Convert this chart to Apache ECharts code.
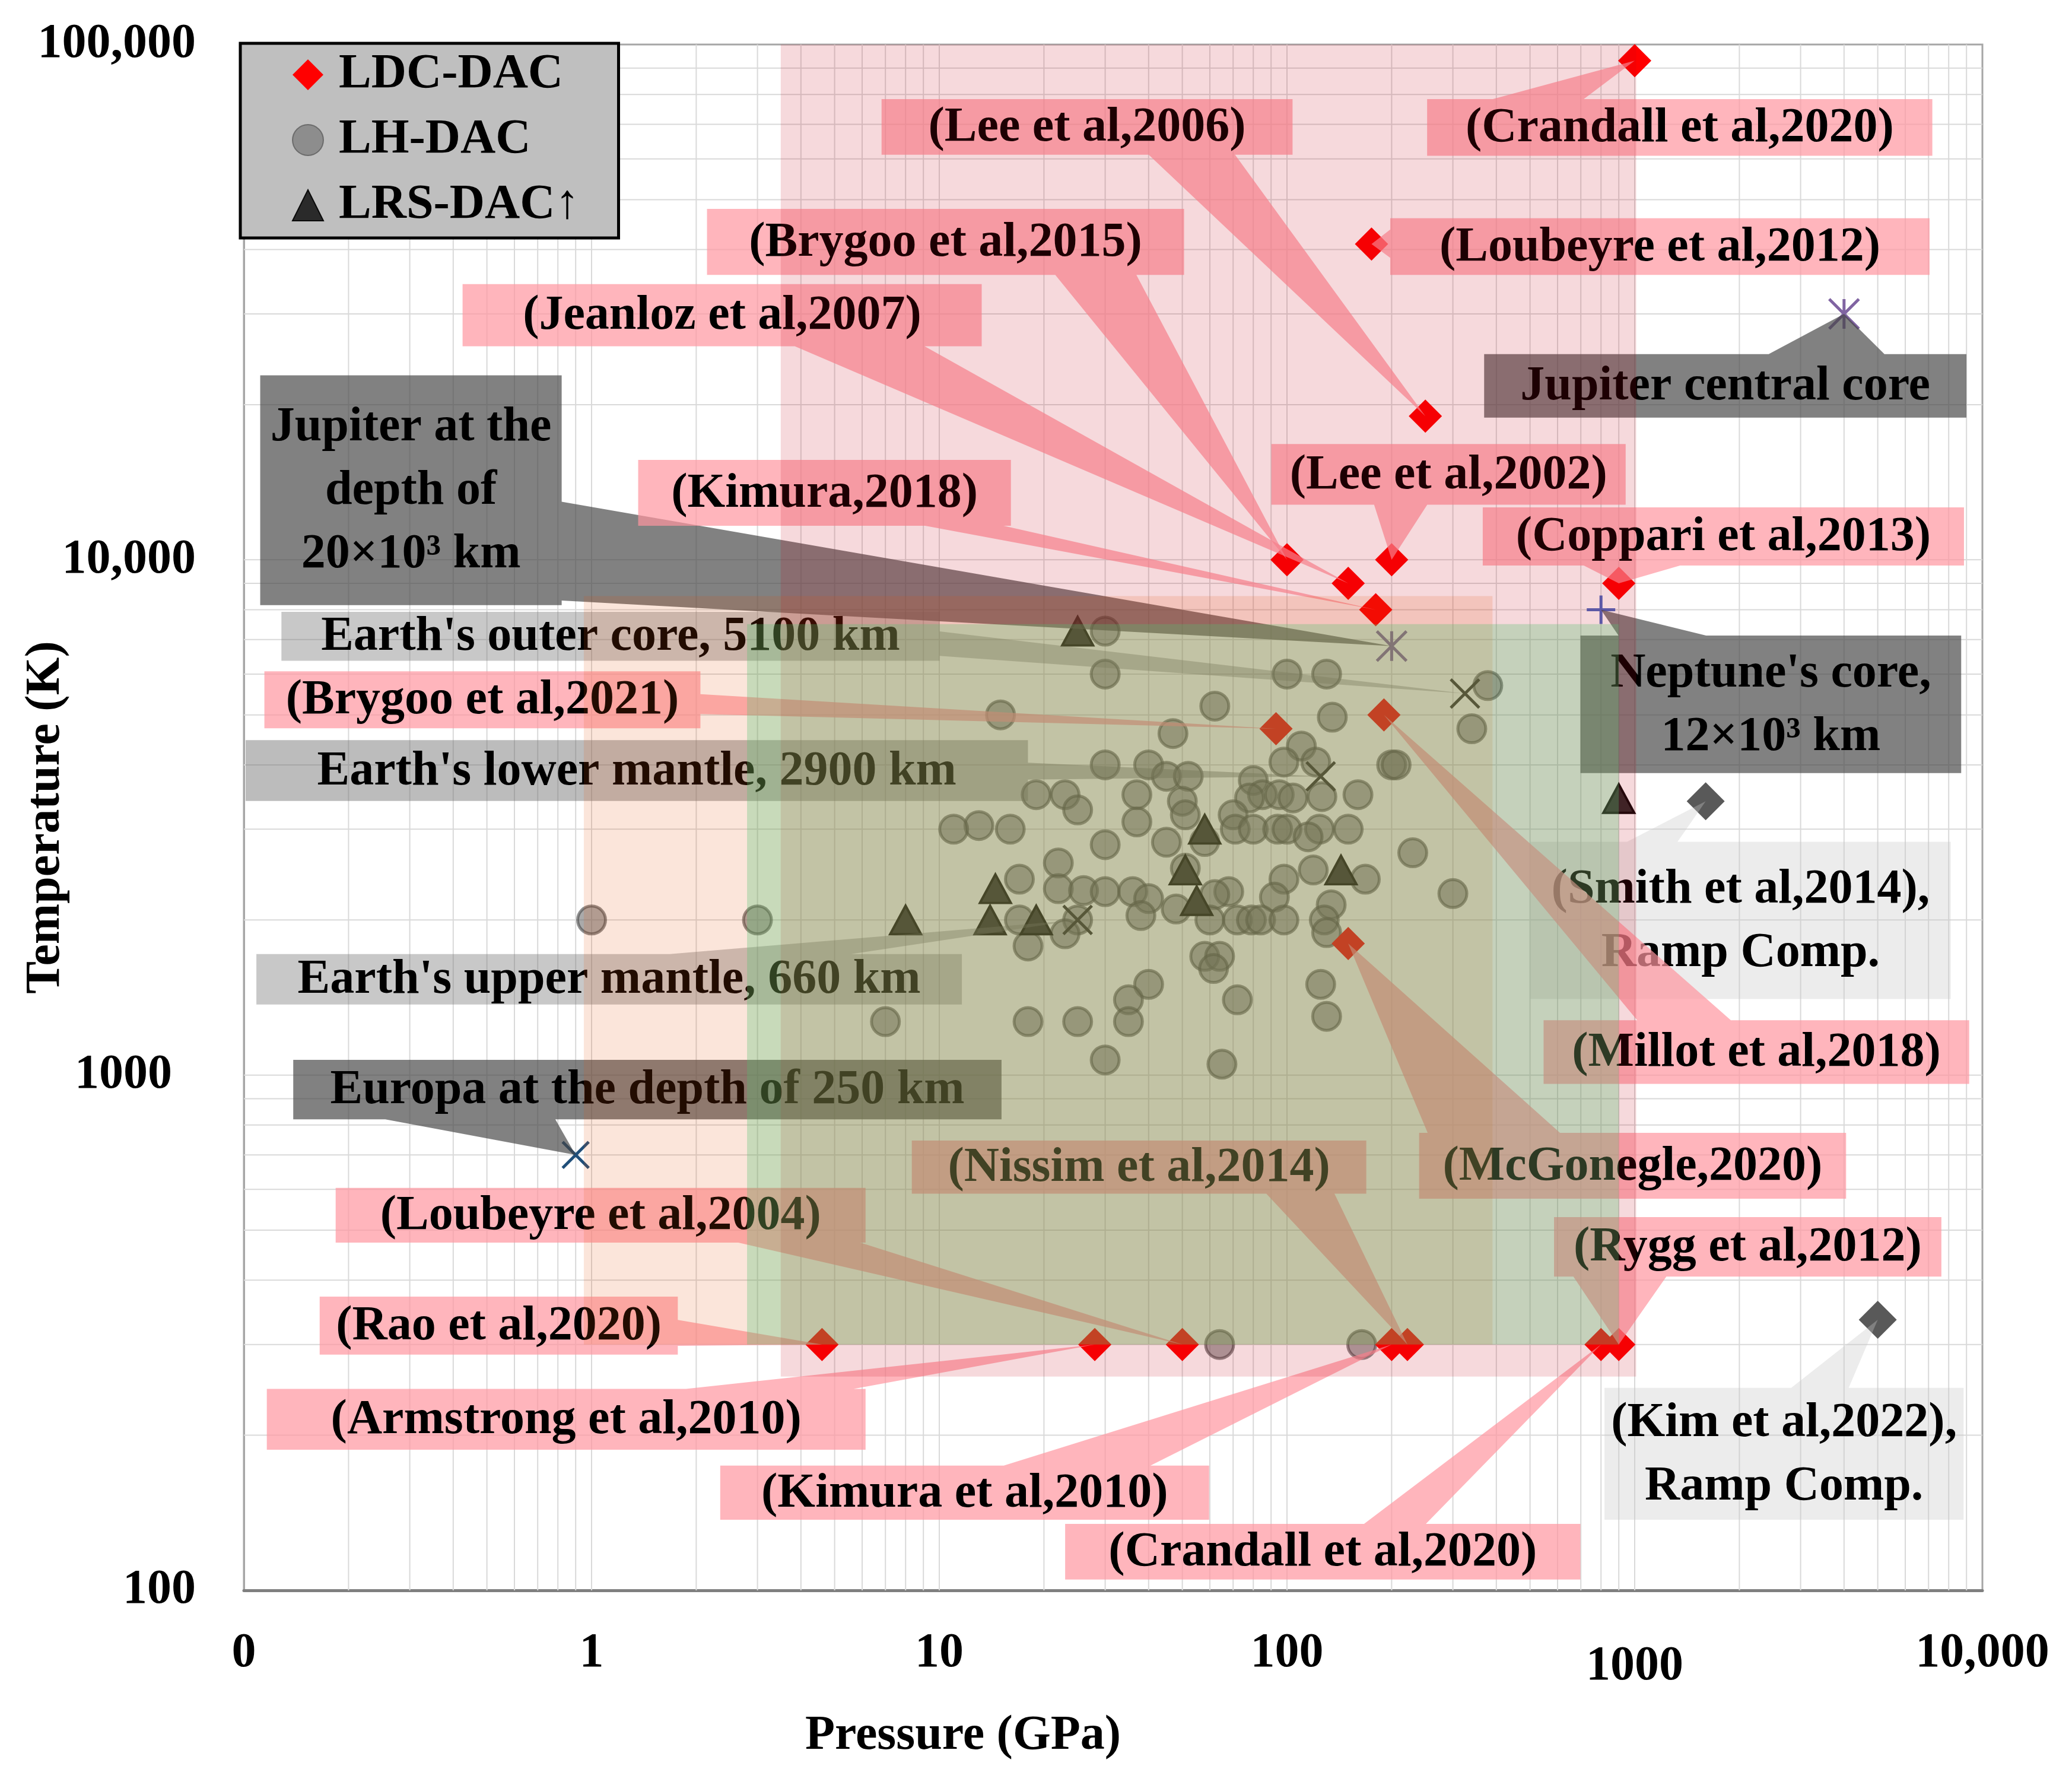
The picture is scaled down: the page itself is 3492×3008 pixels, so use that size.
<!DOCTYPE html>
<html>
<head>
<meta charset="utf-8">
<script src="https://cdn.jsdelivr.net/npm/echarts@6/dist/echarts.min.js"></script>
<style>html,body{margin:0;padding:0;background:#fff}#c{width:3492px;height:3008px}</style>
</head>
<body>
<div id="c"></div>
<script>
// ---------------- DATA (Pressure GPa, Temperature K) ----------------
const xTickValues = [0.1, 1, 10, 100, 1000, 10000];
const xTickLabels = ['0', '1', '10', '100', '1000', '10,000'];
const yTickValues = [100, 1000, 10000, 100000];
const yTickLabels = ['100', '1000', '10,000', '100,000'];

const ldcDac = [
  [1000, 93000], [175, 41000], [250, 19000], [100, 10000], [200, 10000], [150, 9000],
  [180, 8000], [900, 9000], [93, 4700], [190, 5000], [150, 1800], [4.6, 300],
  [28, 300], [50, 300], [200, 300], [222, 300], [800, 300], [900, 300]
];
const lhDac = [
  [1, 2000], [3, 2000], [30, 7270], [30, 6000], [100, 6000], [130, 6000], [378, 5700], [62, 5200],
  [15, 5000], [135, 4950], [340, 4700], [47, 4600], [110, 4350], [30, 4000], [40, 4000], [200, 4000],
  [206, 4000], [98, 4050], [121, 4050], [45, 3800], [52, 3800], [80, 3730], [19, 3500], [23, 3500],
  [37, 3500], [85, 3500], [95, 3500], [160, 3500], [126, 3470], [78, 3450], [104, 3450], [50, 3400],
  [25, 3270], [51, 3200], [70, 3200], [37, 3100], [13, 3050], [11, 3000], [16, 3000], [71, 3000],
  [80, 3000], [94, 3000], [100, 3000], [124, 3000], [150, 3000], [115, 2900], [58, 2840], [45, 2830],
  [30, 2800], [230, 2700], [22, 2580], [51, 2520], [119, 2500], [17, 2400], [98, 2400], [168, 2400],
  [22, 2300], [26, 2280], [30, 2270], [36, 2270], [68, 2270], [300, 2250], [62, 2240], [92, 2215],
  [40, 2200], [134, 2140], [48, 2100], [38, 2040], [17, 2000], [25, 2000], [60, 2000], [72, 2000],
  [79, 2000], [84, 2000], [98, 2000], [128, 2000], [130, 1890], [23, 1880], [18, 1780], [58, 1700],
  [64, 1700], [61.5, 1610], [40, 1500], [125, 1500], [35, 1400], [72, 1400], [130, 1300], [7, 1270],
  [18, 1270], [25, 1270], [35, 1270], [30, 1070], [65, 1050], [64, 300], [164, 300]
];
const lrsDac = [
  [25, 7270], [8, 2000], [14.5, 2300], [14, 2000], [19, 2000], [51, 2500], [55, 2180],
  [58, 3000], [143, 2500], [900, 3440]
];
const rampComp = [[1600, 3400], [5000, 335]];
const jupiter = [[4000, 30000], [200, 6800]];
const neptune = [[800, 8000]];
const earth = [[325, 5500], [125, 3800], [25, 2000]];
const europa = [[0.9, 700]];

// shaded regions: [pMin, pMax, tMin, tMax]
const shadedRegions = [
  [3.5, 1010, 260, 100000],
  [0.95, 390, 300, 8500],
  [2.8, 900, 300, 7500]
];

const pointSets = { ldc: ldcDac, ramp: rampComp, jup: jupiter, nep: neptune, earth: earth, eur: europa };

const calloutLabels = [
  '(Lee et al,2006)', '(Crandall et al,2020)', '(Brygoo et al,2015)', '(Loubeyre et al,2012)',
  '(Jeanloz et al,2007)', 'Jupiter central core', 'Jupiter at the\ndepth of\n20×10³ km', '(Kimura,2018)',
  '(Lee et al,2002)', '(Coppari et al,2013)', "Earth's outer core, 5100 km", '(Brygoo et al,2021)',
  "Neptune's core,\n12×10³ km", "Earth's lower mantle, 2900 km", '(Smith et al,2014),\nRamp Comp.',
  "Earth's upper mantle, 660 km", '(Millot et al,2018)', 'Europa at the depth of 250 km',
  '(McGonegle,2020)', '(Nissim et al,2014)', '(Loubeyre et al,2004)', '(Rygg et al,2012)',
  '(Rao et al,2020)', '(Armstrong et al,2010)', '(Kim et al,2022),\nRamp Comp.', '(Kimura et al,2010)',
  '(Crandall et al,2020)'
];
const calloutTargets = [
  ['ldc', 2], ['ldc', 0], ['ldc', 3], ['ldc', 1], ['ldc', 5], ['jup', 0], ['jup', 1], ['ldc', 6],
  ['ldc', 4], ['ldc', 7], ['earth', 0], ['ldc', 8], ['nep', 0], ['earth', 1], ['ramp', 0],
  ['earth', 2], ['ldc', 9], ['eur', 0], ['ldc', 10], ['ldc', 15], ['ldc', 13], ['ldc', 17],
  ['ldc', 11], ['ldc', 12], ['ramp', 1], ['ldc', 14], ['ldc', 16]
];

// ---------------- LAYOUT / STYLE ----------------
// callout box in log10 units: [x1, x2, yTop, yBottom, wedgeEdge, f1, f2, style]
const calloutLayout = [
  [0.834, 2.016, 4.894, 4.786, 'bottom', 0.65, 0.86, 'pink'],
  [2.403, 3.856, 4.894, 4.784, 'top', 0.13, 0.31, 'pink'],
  [0.332, 1.704, 4.681, 4.553, 'bottom', 0.73, 0.90, 'pink'],
  [2.297, 3.848, 4.663, 4.553, 'left', 0.2, 0.7, 'pink'],
  [-0.371, 1.122, 4.535, 4.4145, 'bottom', 0.64, 0.89, 'pink'],
  [2.567, 3.954, 4.399, 4.276, 'top', 0.59, 0.83, 'dark'],
  [-0.953, -0.086, 4.358, 3.912, 'right', 0.55, 0.98, 'dark'],
  [0.134, 1.206, 4.194, 4.066, 'bottom', 0.77, 0.98, 'pink'],
  [1.955, 2.974, 4.2247, 4.107, 'bottom', 0.29, 0.44, 'pink'],
  [2.563, 3.947, 4.1016, 3.989, 'bottom', 0.21, 0.41, 'pink'],
  [-0.892, 1.001, 3.899, 3.804, 'right', 0.4, 0.9, 'light'],
  [-0.941, 0.313, 3.7835, 3.673, 'right', 0.4, 0.75, 'pink'],
  [2.844, 3.939, 3.853, 3.586, 'top', 0.1, 0.33, 'dark'],
  [-0.995, 1.255, 3.650, 3.532, 'right', 0.37, 0.65, 'mid'],
  [2.700, 3.909, 3.4527, 3.1475, 'top', 0.23, 0.35, 'pale'],
  [-0.964, 1.065, 3.2347, 3.137, 'top', 0.586, 0.843, 'light'],
  [2.738, 3.962, 3.1065, 2.983, 'top', 0.22, 0.44, 'pink'],
  [-0.858, 1.179, 3.0295, 2.914, 'bottom', 0.13, 0.37, 'dark'],
  [2.380, 3.608, 2.888, 2.760, 'top', 0.02, 0.33, 'pink'],
  [0.921, 2.228, 2.873, 2.770, 'bottom', 0.78, 0.93, 'pink'],
  [-0.736, 0.788, 2.781, 2.675, 'bottom', 0.76, 0.99, 'pink'],
  [2.768, 3.882, 2.7243, 2.609, 'bottom', 0.05, 0.29, 'pink'],
  [-0.782, 0.248, 2.570, 2.4575, 'right', 0.4, 0.85, 'pink'],
  [-0.934, 0.788, 2.391, 2.273, 'top', 0.7, 0.98, 'pink'],
  [2.913, 3.946, 2.393, 2.137, 'top', 0.52, 0.68, 'pale'],
  [0.370, 1.776, 2.242, 2.137, 'top', 0.58, 0.88, 'pink'],
  [1.362, 2.844, 2.129, 2.021, 'top', 0.58, 0.70, 'pink']
];
const boxFill = {
  pink: 'rgba(255,150,160,0.7)',
  dark: 'rgba(70,70,70,0.68)',
  light: 'rgba(110,110,110,0.38)',
  mid: 'rgba(110,110,110,0.46)',
  pale: 'rgba(200,200,200,0.35)'
};
const regionFill = ['rgba(195,2,22,0.15)', 'rgba(228,82,4,0.15)', 'rgba(82,191,112,0.3)'];

const FONT_FAMILY = '"Liberation Serif", "Times New Roman", serif';
const FS = 82;

const chart = echarts.init(document.getElementById('c'), null, { renderer: 'canvas', width: 3492, height: 3008 });

function gridRender(params, api) {
  const cs = params.coordSys;
  const children = [];
  const style = { stroke: '#d9d9d9', lineWidth: 2 };
  for (let k = -1; k <= 3; k++) {
    for (let m = 1; m <= 9; m++) {
      const v = m * Math.pow(10, k);
      const x = api.coord([v, 1000])[0];
      if (x > cs.x + 1 && x < cs.x + cs.width - 1)
        children.push({ type: 'line', shape: { x1: x, y1: cs.y, x2: x, y2: cs.y + cs.height }, style });
    }
  }
  for (let k = 2; k <= 4; k++) {
    for (let m = 1; m <= 9; m++) {
      const v = m * Math.pow(10, k);
      const y = api.coord([1, v])[1];
      if (y > cs.y + 1 && y < cs.y + cs.height - 1)
        children.push({ type: 'line', shape: { x1: cs.x, y1: y, x2: cs.x + cs.width, y2: y }, style });
    }
  }
  return { type: 'group', children };
}

function regionRender(params, api) {
  const p1 = api.coord([api.value(0), api.value(3)]);
  const p2 = api.coord([api.value(1), api.value(2)]);
  return {
    type: 'rect',
    shape: { x: p1[0], y: p1[1], width: p2[0] - p1[0], height: p2[1] - p1[1] },
    style: { fill: regionFill[api.value(4)] }
  };
}

function calloutRender(params, api) {
  const i = api.value(2);
  const L = calloutLayout[i];
  const tl = api.coord([Math.pow(10, L[0]), Math.pow(10, L[2])]);
  const br = api.coord([Math.pow(10, L[1]), Math.pow(10, L[3])]);
  const tip = api.coord([api.value(0), api.value(1)]);
  const x1 = tl[0], y1 = tl[1], x2 = br[0], y2 = br[1];
  const w = x2 - x1, h = y2 - y1;
  const e = L[4], f1 = L[5], f2 = L[6];
  const pts = [[x1, y1]];
  if (e === 'top') pts.push([x1 + f1 * w, y1], tip, [x1 + f2 * w, y1]);
  pts.push([x2, y1]);
  if (e === 'right') pts.push([x2, y1 + f1 * h], tip, [x2, y1 + f2 * h]);
  pts.push([x2, y2]);
  if (e === 'bottom') pts.push([x1 + f2 * w, y2], tip, [x1 + f1 * w, y2]);
  pts.push([x1, y2]);
  if (e === 'left') pts.push([x1, y1 + f2 * h], tip, [x1, y1 + f1 * h]);
  return {
    type: 'group',
    children: [
      { type: 'polygon', shape: { points: pts }, style: { fill: boxFill[L[7]] } },
      {
        type: 'text',
        style: {
          text: calloutLabels[i], x: (x1 + x2) / 2, y: (y1 + y2) / 2 + 2,
          align: 'center', verticalAlign: 'middle', textAlign: 'center', textVerticalAlign: 'middle',
          font: 'bold ' + FS + 'px ' + FONT_FAMILY, fill: '#000', lineHeight: 107
        }
      }
    ]
  };
}

const pathX = 'path://M0,0L10,10M10,0L0,10';
const pathPlus = 'path://M5,0L5,10M0,5L10,5';
const pathStar = 'path://M5,0L5,10M0,0L10,10M10,0L0,10';

const labelFont = { fontSize: FS, fontWeight: 'bold', fontFamily: FONT_FAMILY, color: '#000' };

const option = {
  animation: false,
  backgroundColor: '#ffffff',
  grid: {
    left: 411, right: 151, top: 75, bottom: 328, show: true, borderColor: '#a6a6a6', borderWidth: 3,
    containLabel: false, outerBoundsMode: 'none'
  },
  legend: {
    data: ['LDC-DAC', 'LH-DAC', 'LRS-DAC↑'],
    orient: 'vertical',
    left: 405, top: 73,
    padding: [12, 66, 14, 87],
    itemGap: 28,
    itemWidth: 52, itemHeight: 52,
    backgroundColor: '#bfbfbf',
    borderColor: '#000', borderWidth: 5,
    z: 20,
    textStyle: { fontSize: FS, fontWeight: 'bold', fontFamily: FONT_FAMILY, color: '#000', lineHeight: 80, padding: [0, 0, 0, 21] }
  },
  xAxis: {
    type: 'log', logBase: 10, min: 0.1, max: 10000,
    name: 'Pressure (GPa)', nameLocation: 'middle', nameGap: 205,
    nameTextStyle: Object.assign({}, labelFont, { padding: [0, 506, 0, 0] }),
    axisLine: { show: true, lineStyle: { color: '#7f7f7f', width: 5 } },
    axisTick: { show: false },
    splitLine: { show: false },
    axisLabel: Object.assign({}, labelFont, {
      margin: 66,
      formatter: v => {
        const i = Math.round(Math.log10(v)) + 1;
        const s = xTickLabels[i] !== undefined ? xTickLabels[i] : '';
        return s === '1000' ? '{low|' + s + '}' : s;
      },
      rich: { low: Object.assign({}, labelFont, { padding: [22, 0, 0, 0] }) }
    })
  },
  yAxis: {
    type: 'log', logBase: 10, min: 100, max: 100000,
    name: 'Temperature (K)', nameLocation: 'middle', nameGap: 292, nameMoveOverlap: false,
    nameTextStyle: labelFont,
    axisLine: { show: true, lineStyle: { color: '#a6a6a6', width: 3 } },
    axisTick: { show: false },
    splitLine: { show: false },
    axisLabel: Object.assign({}, labelFont, {
      margin: 81,
      formatter: v => {
        const i = Math.round(Math.log10(v)) - 2;
        const s = yTickLabels[i] !== undefined ? yTickLabels[i] : '';
        return s === '1000' ? '{sh|' + s + '}' : s;
      },
      rich: { sh: Object.assign({}, labelFont, { padding: [0, 40, 0, 0] }) }
    })
  },
  series: [
    { type: 'custom', name: 'grid', silent: true, z: 1, data: [[1, 1000]], renderItem: gridRender },
    {
      name: 'LH-DAC', type: 'scatter', z: 3, data: lhDac, symbol: 'circle', symbolSize: 47,
      itemStyle: { color: 'rgba(100,100,100,0.55)', borderColor: 'rgba(70,70,70,0.6)', borderWidth: 5, opacity: 1 }
    },
    {
      name: 'LRS-DAC↑', type: 'scatter', z: 3, data: lrsDac, symbol: 'triangle', symbolSize: [52, 48],
      itemStyle: { color: '#2a2a2a', borderColor: '#0a0a0a', borderWidth: 4, opacity: 1 }
    },
    {
      name: 'LDC-DAC', type: 'scatter', z: 3, data: ldcDac, symbol: 'diamond', symbolSize: 56,
      itemStyle: { color: '#ff0000', opacity: 1 }
    },
    {
      name: 'Ramp Comp.', type: 'scatter', z: 3, data: rampComp, symbol: 'diamond', symbolSize: 64,
      itemStyle: { color: '#595959', opacity: 1 }
    },
    {
      name: 'Jupiter', type: 'scatter', z: 3, data: jupiter, symbol: pathStar, symbolSize: 50,
      itemStyle: { color: 'rgba(0,0,0,0)', borderColor: '#8064a2', borderWidth: 5, opacity: 1 }
    },
    {
      name: 'Neptune', type: 'scatter', z: 3, data: neptune, symbol: pathPlus, symbolSize: 48,
      itemStyle: { color: 'rgba(0,0,0,0)', borderColor: '#4a68c0', borderWidth: 5, opacity: 1 }
    },
    {
      name: 'Earth', type: 'scatter', z: 3, data: earth, symbol: pathX, symbolSize: 48,
      itemStyle: { color: 'rgba(0,0,0,0)', borderColor: '#2b2b2b', borderWidth: 5, opacity: 1 }
    },
    {
      name: 'Europa', type: 'scatter', z: 3, data: europa, symbol: pathX, symbolSize: 44,
      itemStyle: { color: 'rgba(0,0,0,0)', borderColor: '#1f4e79', borderWidth: 5, opacity: 1 }
    },
    {
      type: 'custom', name: 'callouts', silent: true, z: 4,
      data: calloutTargets.map((t, i) => { const p = pointSets[t[0]][t[1]]; return [p[0], p[1], i]; }),
      encode: { x: 0, y: 1 },
      renderItem: calloutRender
    },
    {
      type: 'custom', name: 'regions', silent: true, z: 5,
      data: shadedRegions.map((r, i) => [r[0], r[1], r[2], r[3], i]),
      encode: { x: [0, 1], y: [2, 3] },
      renderItem: regionRender
    }
  ]
};
chart.setOption(option);
</script>
</body>
</html>
